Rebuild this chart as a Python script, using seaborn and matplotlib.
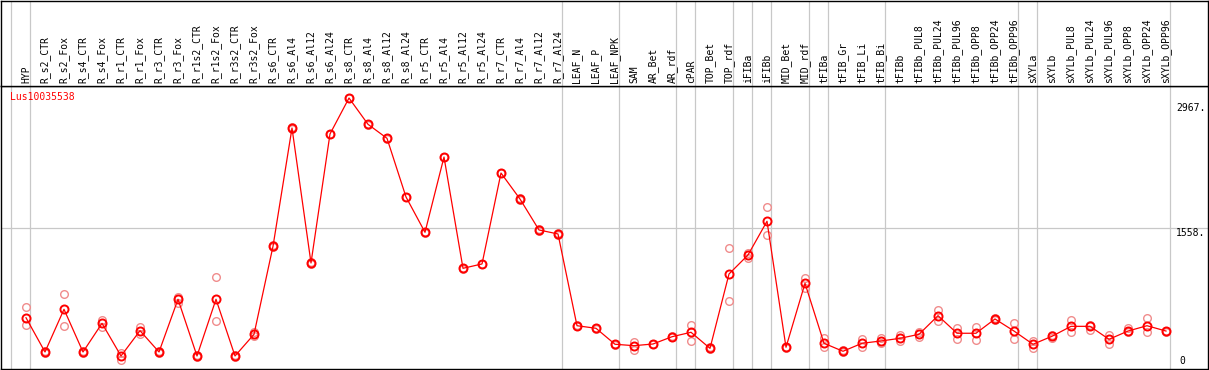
import numpy as np
import pandas as pd
import matplotlib
matplotlib.use("Agg")
import matplotlib.pyplot as plt
import seaborn as sns

# sample names (header labels)
samples = ["HYP", "R_s2_CTR", "R_s2_Fox", "R_s4_CTR", "R_s4_Fox", "R_r1_CTR", "R_r1_Fox",
           "R_r3_CTR", "R_r3_Fox", "R_r1s2_CTR", "R_r1s2_Fox", "R_r3s2_CTR", "R_r3s2_Fox",
           "R_s6_CTR", "R_s6_Al4", "R_s6_Al12", "R_s6_Al24", "R_s8_CTR", "R_s8_Al4",
           "R_s8_Al12", "R_s8_Al24", "R_r5_CTR", "R_r5_Al4", "R_r5_Al12", "R_r5_Al24",
           "R_r7_CTR", "R_r7_Al4", "R_r7_Al12", "R_r7_Al24", "LEAF_N", "LEAF_P", "LEAF_NPK",
           "SAM", "AR_Bet", "AR_rdf", "cPAR", "TOP_Bet", "TOP_rdf", "iFIBa", "iFIBb",
           "MID_Bet", "MID_rdf", "tFIBa", "tFIB_Gr", "tFIB_Li", "tFIB_Bi", "tFIBb",
           "tFIBb_PUL8", "tFIBb_PUL24", "tFIBb_PUL96", "tFIBb_OPP8", "tFIBb_OPP24",
           "tFIBb_OPP96", "sXYLa", "sXYLb", "sXYLb_PUL8", "sXYLb_PUL24", "sXYLb_PUL96",
           "sXYLb_OPP8", "sXYLb_OPP24", "sXYLb_OPP96"]

# mean expression
mean_expr = [544, 158, 639, 158, 481, 113, 398, 158, 752, 113, 752, 113, 357,
             1349, 2682, 1161, 2615, 3020, 2724, 2566, 1905, 1507, 2355, 1101, 1150,
             2175, 1882, 1533, 1488, 454, 425, 245,
             229, 248, 330, 380, 199, 1037, 1251, 1631,
             211, 932, 256, 166, 256, 282, 312,
             357, 567, 369, 369, 530, 394,
             245, 335, 447, 447, 301, 394, 454, 394]

# replicate values (two visible replicates per sample)
rep_a = [662, 150, 808, 150, 518, 68, 440, 150, 781, 120, 1000, 120, 383,
         1360, 2690, 1170, 2620, 3025, 2730, 2570, 1910, 1510, 2360, 1110, 1155,
         2180, 1890, 1540, 1495, 458, 430, 250,
         274, 252, 340, 462, 210, 1326, 1270, 1789,
         218, 995, 319, 180, 301, 319, 349,
         383, 631, 432, 443, 545, 481,
         282, 349, 518, 465, 349, 425, 541, 400]
rep_b = [462, 165, 454, 165, 440, 143, 361, 165, 713, 105, 507, 105, 340,
         1340, 2675, 1150, 2610, 3015, 2715, 2560, 1900, 1500, 2350, 1095, 1145,
         2170, 1875, 1525, 1480, 450, 420, 240,
         180, 244, 322, 285, 190, 729, 1217, 1473,
         205, 876, 218, 155, 218, 259, 282,
         327, 511, 301, 293, 515, 308,
         199, 320, 387, 406, 248, 380, 387, 388]

# group separators drawn just after these samples (-1 = before the first one)
group_ends = [-1, 0, 28, 31, 34, 35, 37, 38, 39, 41, 42, 45, 52, 53, 60]

gene = "Lus10035538"
ytick_vals = [2967, 1558, 0]
ytick_text = ["2967.", "1558.", "0"]

W, H = 1209, 370
fig = plt.figure(figsize=(W / 100, H / 100), dpi=100)
fig.patch.set_facecolor("white")

mono = "DejaVu Sans Mono"
grey = "#c8c8c8"

ax = fig.add_axes([0.5 / W, 1 / H, 1207 / W, 283 / H])
axh = fig.add_axes([0.5 / W, 284 / H, 1207 / W, 85.5 / H])

xmin, xmax = (0.5 - 26) / 19, (1207.5 - 26) / 19
scale = 11.27
for a in (ax, axh):
    a.set_xlim(xmin, xmax)
    a.set_xticks([])
    a.set_yticks([])
    for s in a.spines.values():
        s.set_color("black")
        s.set_linewidth(1.0)
    for g in group_ends:
        a.axvline(g + 0.23, color=grey, lw=0.9, zorder=0)
axh.set_ylim(0, 1)
ax.set_ylim(-3 * scale, 280 * scale)
ax.axhline(1558, color=grey, lw=0.9, zorder=0)

idx = np.arange(len(samples))
df = pd.DataFrame({"idx": idx, "mean": mean_expr, "a": rep_a, "b": rep_b})

for col in ["a", "b"]:
    sns.lineplot(data=df, x="idx", y=col, ax=ax, linewidth=0, marker="o",
                 markersize=5.5, markerfacecolor="none", markeredgecolor="#f08c8c",
                 markeredgewidth=1.0, color="#f08c8c", zorder=2)
sns.lineplot(data=df, x="idx", y="mean", ax=ax, color="red", linewidth=0.9,
             marker="o", markersize=5.8, markerfacecolor="none",
             markeredgecolor="red", markeredgewidth=1.4, zorder=3)
ax.set_xlabel("")
ax.set_ylabel("")
ax.set_xlim(xmin, xmax)

# header labels
for i, name in enumerate(samples):
    axh.text(i, 0.03, name, rotation=90, ha="center", va="bottom",
             fontsize=7, family=mono, color="black",
             transform=axh.get_xaxis_transform())

# right-hand value labels
for v, t in zip(ytick_vals, ytick_text):
    xr = (1176 - 0.5) / 1207 if v else (1179 - 0.5) / 1207
    ax.text(xr, v, t, ha="left", va="bottom" if v == 0 else "top",
            fontsize=7, family=mono, transform=ax.get_yaxis_transform())

fig.text(10 / W, 1 - 97 / H, gene, color="red", fontsize=7, family=mono,
         ha="left", va="center")

fig.savefig("out.png", dpi=100)
